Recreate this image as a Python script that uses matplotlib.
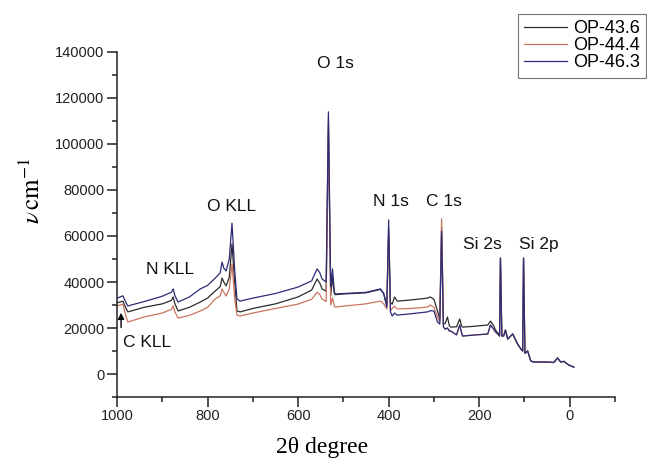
import matplotlib
matplotlib.use("Agg")
import matplotlib.pyplot as plt
from matplotlib.ticker import MultipleLocator

# ---- data ----
energy = [1000, 993, 987, 980, 976, 940, 900, 889, 880, 876, 872, 865, 840, 816, 800,
          783, 772, 768, 764, 759, 752, 746, 740, 735, 728, 700, 650, 600, 570, 558,
          552, 547, 538, 533, 528, 524, 520, 518, 500, 450, 418, 411, 404, 400, 396,
          392, 387, 381, 350, 314, 308, 300, 292, 287, 283, 279, 275, 270, 266, 263,
          250, 243, 239, 237, 220, 181, 175, 168, 164, 157, 155, 153, 150, 146, 142,
          137, 126, 115, 108, 104, 102, 99, 93, 86, 80, 50, 35, 27, 20, 13, 2, -9]

op_43_6 = [31000, 31300, 31700, 28500, 27000, 29000, 30500, 31300, 32000, 33500, 30500, 27400, 29000, 31300, 33000,
           36100, 38000, 41700, 40000, 38300, 42000, 56500, 40000, 27400, 27000, 28500, 30500, 33500, 36500, 41300,
           39500, 37000, 36000, 108000, 34000, 42000, 35000, 34500, 34800, 35300, 36800, 35000, 30000, 63000, 31000,
           30400, 33500, 31700, 32200, 33000, 33500, 32500, 27400, 23900, 64000, 21700, 22000, 24800, 21000, 20400,
           20500, 23900, 21000, 20400, 20600, 21300, 23000, 21000, 19100, 17400, 17000, 50000, 17000, 16500, 19100,
           15200, 17400, 13000, 10900, 10000, 50000, 9000, 10000, 5700, 5200, 5200, 5000, 7000, 5200, 5500, 3900, 3000]

op_44_4 = [29500, 30000, 30400, 25000, 22600, 24800, 26500, 27400, 28000, 29600, 27000, 24300, 25500, 27400, 29000,
           32600, 34000, 37000, 35500, 33900, 37000, 47800, 33000, 25600, 25200, 26500, 28500, 30400, 32500, 35600,
           34500, 32600, 31500, 112000, 30000, 33000, 29500, 29100, 29500, 30500, 31700, 30500, 28300, 60000, 27500,
           28500, 29500, 28300, 28500, 29100, 30000, 29000, 24800, 22600, 67500, 20400, 19500, 20000, 18700, 18700,
           17000, 21300, 18000, 16500, 16800, 17400, 21300, 19500, 18300, 17000, 16500, 50500, 16500, 16500, 19100,
           15200, 17400, 13000, 10900, 10000, 50500, 9000, 10000, 5700, 5200, 5200, 5000, 7000, 5200, 5500, 3900, 3000]

op_46_3 = [33000, 33500, 34000, 31000, 29600, 31500, 33800, 34800, 35500, 37000, 34000, 31300, 33500, 37000, 38500,
           41700, 44000, 48700, 46000, 44800, 50000, 65600, 45000, 32600, 31700, 33000, 35000, 37800, 40500, 45700,
           44000, 41300, 40000, 114000, 38000, 45700, 36000, 34800, 35000, 35500, 37000, 35000, 29100, 67000, 27000,
           25200, 26500, 25600, 26200, 27000, 27500, 27400, 22600, 21700, 62000, 20400, 19500, 20000, 18700, 18700,
           17000, 21300, 18000, 16500, 16800, 17400, 21300, 19500, 18300, 17000, 16500, 50500, 16500, 16500, 19100,
           15200, 17400, 13000, 10900, 10000, 50500, 9000, 10000, 5700, 5200, 5200, 5000, 7000, 5200, 5500, 3900, 3000]

series_names = ["OP-43.6", "OP-44.4", "OP-46.3"]
series_colors = ["#2b2b2b", "#cc7460", "#2c2c78"]

peak_labels = ["O 1s", "O KLL", "N KLL", "C KLL", "N 1s", "C 1s", "Si 2s", "Si 2p"]
peak_label_x = [518, 746, 883, 934, 396, 278, 192, 69]
peak_label_y = [135000, 73000, 45600, 13900, 74800, 74800, 56500, 56500]

# ---- figure ----
plt.rcParams['font.family'] = ['Liberation Sans', 'DejaVu Sans']
fig = plt.figure(figsize=(6.47, 4.58), dpi=100)
ax = fig.add_axes([117/647, 1-397/458, (615-117)/647, (397-52)/458])

for ys, name, col in zip([op_43_6, op_44_4, op_46_3], series_names, series_colors):
    ax.plot(energy, ys, color=col, lw=0.9, label=name)

ax.set_xlim(1000, -100)
ax.set_ylim(-10000, 140000)
ax.xaxis.set_major_locator(MultipleLocator(200))
ax.xaxis.set_minor_locator(MultipleLocator(100))
ax.yaxis.set_major_locator(MultipleLocator(20000))
ax.yaxis.set_minor_locator(MultipleLocator(10000))
ax.set_xticks([1000, 800, 600, 400, 200, 0])
ax.set_yticks(list(range(0, 140001, 20000)))

for s in ['top', 'right']:
    ax.spines[s].set_visible(False)
for s in ['left', 'bottom']:
    ax.spines[s].set_linewidth(1.1)
    ax.spines[s].set_color('#222222')

ax.tick_params(which='major', direction='out', length=7, width=1.1, labelsize=10.5,
               colors='#222222', pad=2)
ax.tick_params(which='minor', direction='out', length=3.5, width=1.1, colors='#222222')

for t, x, y in zip(peak_labels, peak_label_x, peak_label_y):
    ax.text(x, y, t, ha='center', va='center', fontsize=12.5, color='#111111')

ax.annotate('', xy=(991, 27800), xytext=(991, 19000),
            arrowprops=dict(arrowstyle='-|>', color='black', lw=1.0, mutation_scale=9))

fig.text(322/647, 1-447/458, "2θ degree", ha='center', va='center', fontsize=17,
         family=['Liberation Serif', 'DejaVu Serif'])
fig.text(32/647, 1-191/458, r"$\mathit{\nu}\,\mathrm{cm}^{-1}$", ha='center', va='center',
         rotation=90, fontsize=18, math_fontfamily='stix')

leg = fig.legend(loc='upper right', bbox_to_anchor=(646/647, 1-14/458), fontsize=13,
                 frameon=True, fancybox=False, edgecolor='#555555', handlelength=2.4,
                 handletextpad=0.3, labelspacing=0.0, borderpad=0.35, borderaxespad=0)
leg.get_frame().set_linewidth(0.8)

fig.savefig("out.png", dpi=100)
